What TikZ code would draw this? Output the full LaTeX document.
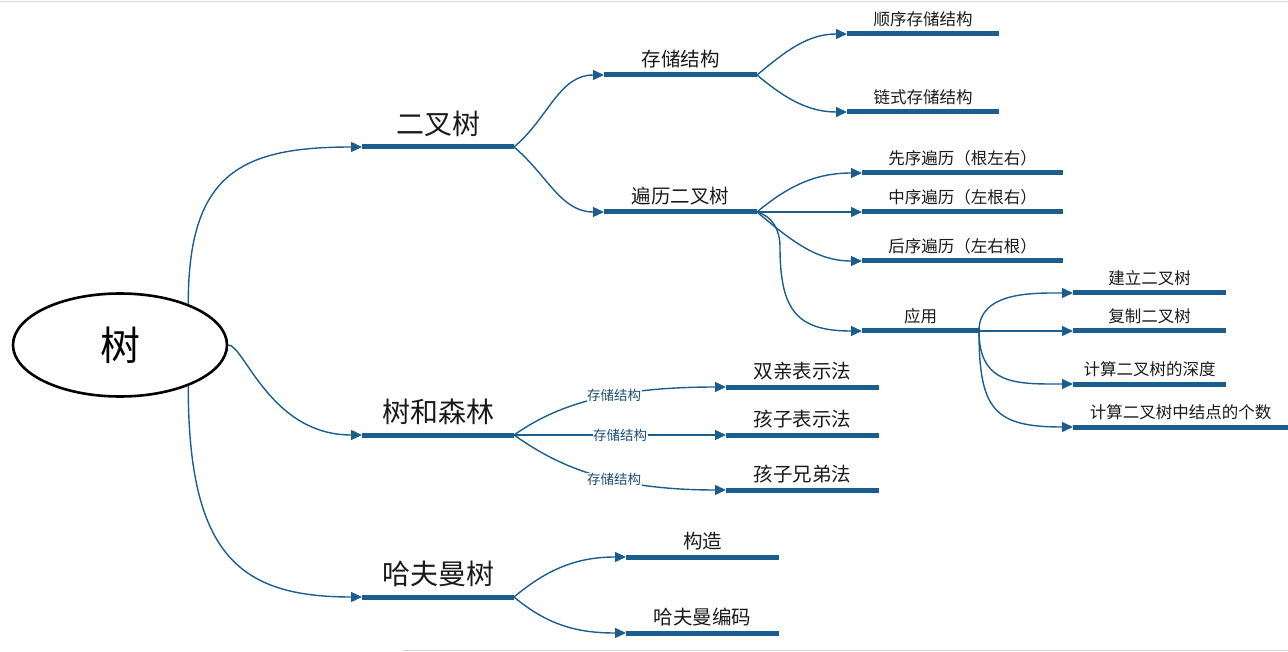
\documentclass[tikz,border=0pt]{standalone}
\usepackage{fontspec}
\newfontfamily\cjk{Noto Sans CJK SC}
\usepackage{tikz}
\usetikzlibrary{arrows.meta,shapes.geometric}
\definecolor{ink}{HTML}{1A1A1A}
\definecolor{branch}{HTML}{1B5E8E}
\definecolor{tag}{HTML}{1C4E74}
\definecolor{rule}{HTML}{D6D6D6}
\tikzset{
  link/.style={draw=branch, line width=1.4pt, -{Triangle[length=11pt,width=10pt]}},
  bar/.style={rectangle, fill=branch, inner sep=0pt, outer sep=0pt, minimum height=5pt},
  rootbox/.style={ellipse, draw=black, line width=2.6pt, minimum width=214pt, minimum height=103pt, text=black, font=\cjk\fontsize{40}{44}\selectfont},
  labb/.style={text=ink, inner sep=0pt, text depth=0pt, label distance=9.9pt, font=\cjk\fontsize{28}{30}\selectfont},
  labm/.style={text=ink, inner sep=0pt, text depth=0pt, label distance=6.1pt, font=\cjk\fontsize{19.5}{21}\selectfont},
  lab/.style={text=ink, inner sep=0pt, text depth=0pt, label distance=5.6pt, font=\cjk\fontsize{16.5}{18}\selectfont},
  elab/.style={text=tag, fill=white, inner sep=0.5pt, font=\cjk\fontsize{13.5}{15}\selectfont},
  fanup/.style={out=40, in=180},
  fandn/.style={out=-40, in=180},
}
\begin{document}
\begin{tikzpicture}[x=1pt, y=1pt]
  \useasboundingbox (0,0) rectangle (1288,-652);
  \draw[rule, line width=1.5pt] (0,-1.5) -- (1288,-1.5);
  \draw[rule, line width=1.5pt] (403,-650.5) -- (1288,-650.5);

  \node[rootbox] (root) at (120,-345) {树};

  \node[bar, minimum width=152pt, label={[labb,name=btt]above:二叉树}] (bt) at (438,-147) {};
  \node[bar, minimum width=152pt, label={[labb,name=tft]above:树和森林}] (tf) at (438,-435) {};
  \node[bar, minimum width=152pt, label={[labb,name=hft]above:哈夫曼树}] (hf) at (438,-597) {};

  \node[bar, minimum width=153pt, label={[labm,name=cct]above:存储结构}] (cc) at (680.5,-75) {};
  \node[bar, minimum width=153pt, label={[labm,name=blt]above:遍历二叉树}] (bl) at (680.5,-212) {};
  \node[bar, minimum width=152pt, label={[lab,name=sxt]above:顺序存储结构}] (sx) at (923,-34) {};
  \node[bar, minimum width=152pt, label={[lab,name=lst]above:链式存储结构}] (ls) at (923,-112) {};
  \node[bar, minimum width=201pt, label={[lab,name=xxt]above:先序遍历（根左右）}] (xx) at (962.5,-173) {};
  \node[bar, minimum width=201pt, label={[lab,name=zxt]above:中序遍历（左根右）}] (zx) at (962.5,-212) {};
  \node[bar, minimum width=201pt, label={[lab,name=hxt]above:后序遍历（左右根）}] (hx) at (962.5,-261) {};
  \node[bar, minimum width=117pt, label={[lab,name=yyt]above:应用}] (yy) at (920.5,-331) {};
  \node[bar, minimum width=153pt, label={[lab,name=jlt]above:建立二叉树}] (jl) at (1149.5,-293) {};
  \node[bar, minimum width=153pt, label={[lab,name=fzt]above:复制二叉树}] (fz) at (1149.5,-331) {};
  \node[bar, minimum width=153pt, label={[lab,name=sdt]above:计算二叉树的深度}] (sd) at (1149.5,-384) {};
  \node[bar, minimum width=215pt, label={[lab,name=gst]above:计算二叉树中结点的个数}] (gs) at (1180.5,-427) {};

  \node[bar, minimum width=153pt, label={[labm,name=sqt]above:双亲表示法}] (sq) at (802.5,-387) {};
  \node[bar, minimum width=153pt, label={[labm,name=hzt]above:孩子表示法}] (hz) at (802.5,-435) {};
  \node[bar, minimum width=153pt, label={[labm,name=xdt]above:孩子兄弟法}] (xd) at (802.5,-490) {};

  \node[bar, minimum width=153pt, label={[labm,name=gzt]above:构造}] (gz) at (702.5,-557) {};
  \node[bar, minimum width=153pt, label={[labm,name=bmt]above:哈夫曼编码}] (bm) at (702.5,-633) {};

  \draw[link] (root.31) .. controls +(0,130) and +(-122,0) .. (bt.west);
  \draw[link] (root.east) .. controls +(16,0) and +(-92,0) .. (tf.west);
  \draw[link] (root.-31) .. controls +(0,-170) and +(-122,0) .. (hf.west);

  \draw[link] (bt.east) to[fanup] (cc.west);
  \draw[link] (bt.east) to[fandn] (bl.west);
  \draw[link] (cc.east) to[fanup] (sx.west);
  \draw[link] (cc.east) to[fandn] (ls.west);
  \draw[link] (bl.east) to[fanup] (xx.west);
  \draw[link] (bl.east) -- (zx.west);
  \draw[link] (bl.east) to[fandn] (hx.west);
  \coordinate (bend) at (780,-247);
  \draw[link] (bl.east) to[out=-15,in=90] (bend) to[out=-90,in=180,looseness=1.4] (yy.west);
  \draw[link] (yy.east) to[out=90,in=180] (jl.west);
  \draw[link] (yy.east) -- (fz.west);
  \draw[link] (yy.east) to[out=-90,in=180,looseness=1.3] (sd.west);
  \draw[link] (yy.east) to[out=-90,in=180,looseness=1.5] (gs.west);

  \draw[link] (tf.east) .. controls +(36,25) and +(-126,0) .. node[elab,pos=0.63] (t1) {存储结构} (sq.west);
  \draw[link] (tf.east) -- node[elab] (t2) {存储结构} (hz.west);
  \draw[link] (tf.east) .. controls +(36,-25) and +(-126,0) .. node[elab,pos=0.63] (t3) {存储结构} (xd.west);

  \draw[link] (hf.east) to[fanup] (gz.west);
  \draw[link] (hf.east) to[fandn] (bm.west);
\end{tikzpicture}
\end{document}
